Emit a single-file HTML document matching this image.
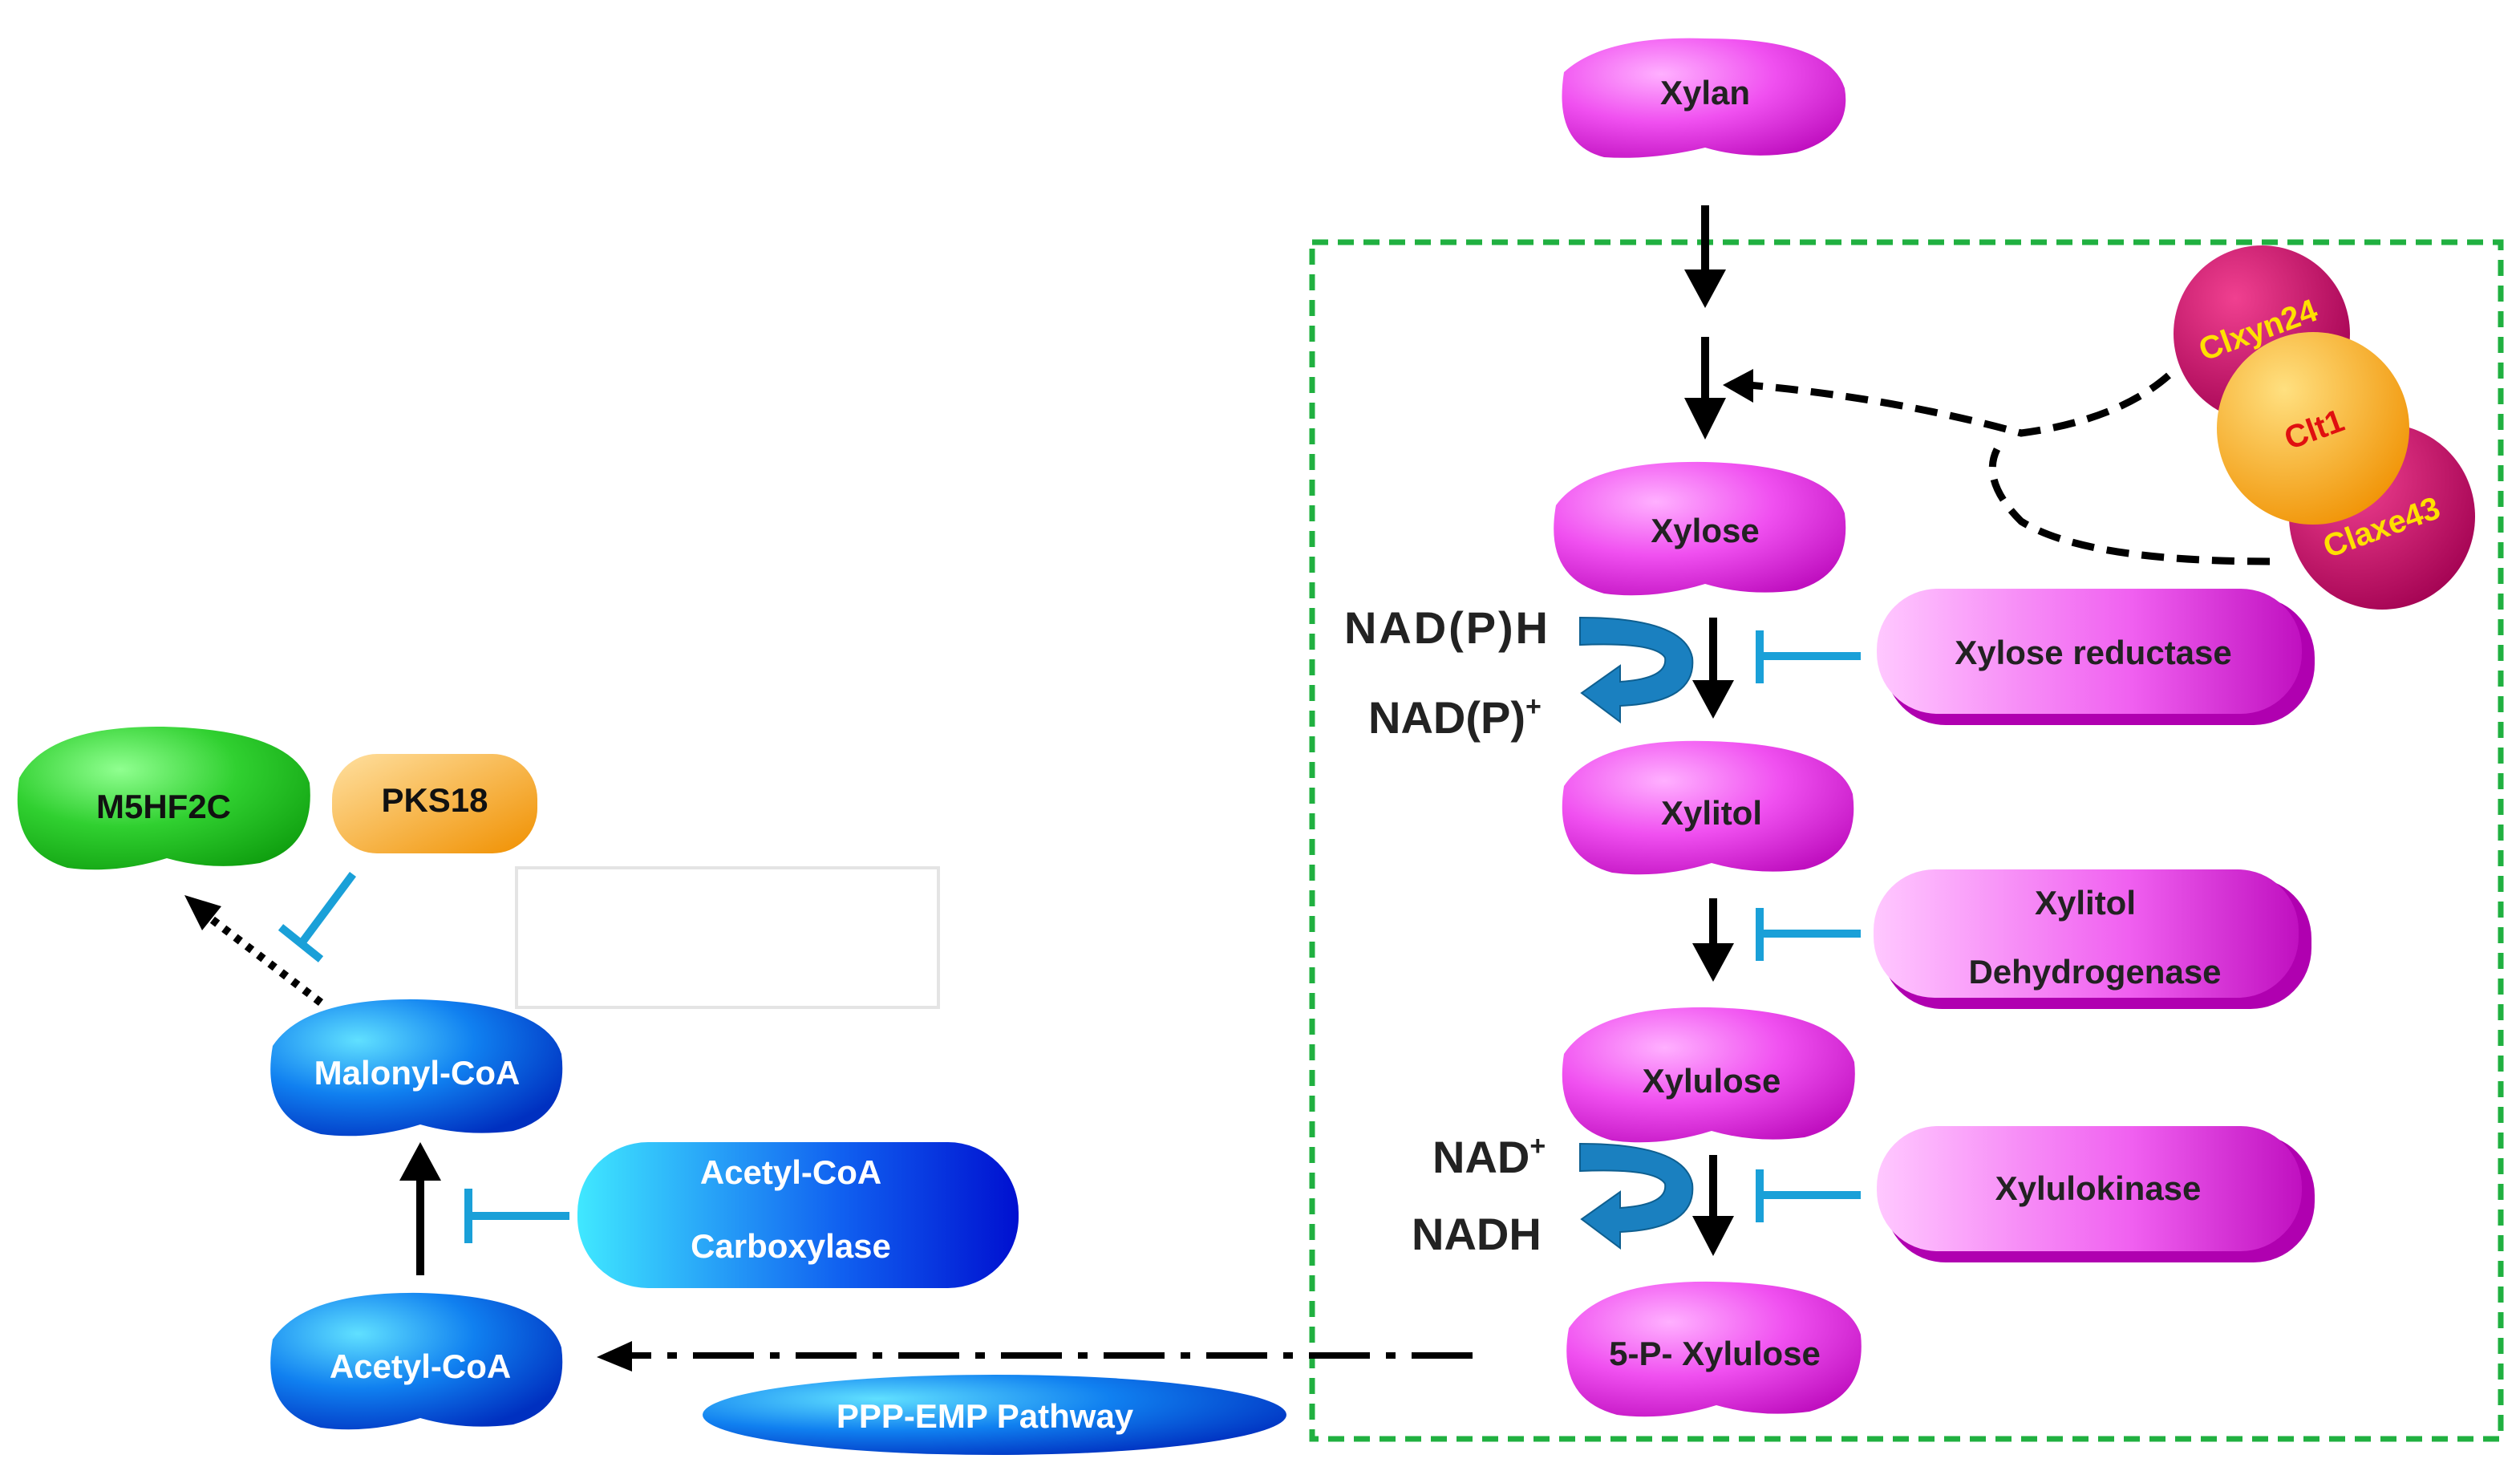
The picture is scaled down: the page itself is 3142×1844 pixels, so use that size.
<!DOCTYPE html>
<html><head><meta charset="utf-8"><style>
html,body{margin:0;padding:0;background:#fff;}
svg{display:block;}
text{font-family:"Liberation Sans",sans-serif;font-weight:bold;}
</style></head><body>
<svg width="3142" height="1844" viewBox="0 0 1571 922" xmlns="http://www.w3.org/2000/svg">
<defs>
<radialGradient id="mag" cx="0.35" cy="0.3" r="0.8"><stop offset="0" stop-color="#ffb0ff"/><stop offset="0.5" stop-color="#f050f0"/><stop offset="1" stop-color="#c010c0"/></radialGradient>
<linearGradient id="magp" x1="0" x2="1" y1="0" y2="0"><stop offset="0" stop-color="#ffc8ff"/><stop offset="0.6" stop-color="#f060f0"/><stop offset="1" stop-color="#c010c0"/></linearGradient>
<radialGradient id="blu" cx="0.3" cy="0.3" r="0.8"><stop offset="0" stop-color="#60e0ff"/><stop offset="0.5" stop-color="#1080f0"/><stop offset="1" stop-color="#0030c0"/></radialGradient>
<linearGradient id="blup" x1="0" x2="1"><stop offset="0" stop-color="#40e8ff"/><stop offset="0.6" stop-color="#1060f0"/><stop offset="1" stop-color="#0010d0"/></linearGradient>
<radialGradient id="grn" cx="0.35" cy="0.3" r="0.8"><stop offset="0" stop-color="#90ff90"/><stop offset="0.5" stop-color="#30d030"/><stop offset="1" stop-color="#10a010"/></radialGradient>
<linearGradient id="org" x1="0" y1="0" x2="1" y2="1"><stop offset="0" stop-color="#ffe0a0"/><stop offset="1" stop-color="#f09000"/></linearGradient>
<radialGradient id="org2" cx="0.35" cy="0.3" r="0.8"><stop offset="0" stop-color="#ffe080"/><stop offset="1" stop-color="#f09000"/></radialGradient>
<radialGradient id="dm" cx="0.35" cy="0.3" r="0.8"><stop offset="0" stop-color="#f04090"/><stop offset="1" stop-color="#a00050"/></radialGradient>
</defs>

<rect x="818" y="151" width="741" height="746" fill="none" stroke="#20b040" stroke-width="3.5" stroke-dasharray="10,6"/>

<path d="M975,45 Q1000,22 1063,24 Q1140,24 1150,55 Q1155,85 1120,95 Q1090,100 1063,92 Q1030,100 1000,98 Q968,90 975,45z" fill="url(#mag)"/>
<text x="1063" y="65" font-size="21" text-anchor="middle" fill="#222">Xylan</text>

<path d="M970,315 Q990,287 1063,288 Q1140,290 1150,320 Q1155,358 1120,368 Q1090,372 1063,364 Q1030,374 1000,370 Q962,360 970,315z" fill="url(#mag)"/>
<text x="1063" y="338" font-size="21" text-anchor="middle" fill="#222">Xylose</text>

<path d="M975,490 Q995,460 1065,462 Q1145,464 1155,495 Q1160,533 1125,542 Q1095,546 1067,538 Q1035,548 1005,544 Q968,534 975,490z" fill="url(#mag)"/>
<text x="1067" y="514" font-size="21" text-anchor="middle" fill="#222">Xylitol</text>

<path d="M975,657 Q995,627 1066,628 Q1145,630 1156,662 Q1160,700 1125,709 Q1095,713 1067,705 Q1035,715 1005,711 Q968,701 975,657z" fill="url(#mag)"/>
<text x="1067" y="681" font-size="21" text-anchor="middle" fill="#222">Xylulose</text>

<path d="M978,828 Q998,798 1068,799 Q1150,800 1160,832 Q1164,870 1128,880 Q1098,884 1070,876 Q1038,886 1008,882 Q970,872 978,828z" fill="url(#mag)"/>
<text x="1069" y="851" font-size="21" text-anchor="middle" fill="#222">5-P- Xylulose</text>

<path d="M170,835 Q190,805 262,806 Q340,808 350,840 Q355,878 320,888 Q290,892 262,884 Q230,894 200,890 Q162,880 170,835z" fill="url(#blu)"/>
<text x="262" y="859" font-size="21" text-anchor="middle" fill="#fff">Acetyl-CoA</text>

<path d="M170,652 Q190,622 260,623 Q340,625 350,657 Q355,695 320,705 Q290,709 262,701 Q230,711 200,707 Q162,697 170,652z" fill="url(#blu)"/>
<text x="260" y="676" font-size="21" text-anchor="middle" fill="#fff">Malonyl-CoA</text>

<path d="M12,485 Q30,452 102,453 Q182,455 193,488 Q197,528 162,538 Q132,543 104,535 Q72,545 42,541 Q5,530 12,485z" fill="url(#grn)"/>
<text x="102" y="510" font-size="21" text-anchor="middle" fill="#111">M5HF2C</text>

<rect x="207" y="470" width="128" height="62" rx="28" fill="url(#org)"/>
<text x="271" y="506" font-size="21" text-anchor="middle" fill="#111">PKS18</text>

<rect x="1175" y="372" width="268" height="80" rx="38" fill="#b000b0"/>
<rect x="1170" y="367" width="265" height="78" rx="38" fill="url(#magp)"/>
<text x="1305" y="414" font-size="21" text-anchor="middle" fill="#222">Xylose reductase</text>

<rect x="1173" y="547" width="268" height="82" rx="38" fill="#b000b0"/>
<rect x="1168" y="542" width="265" height="80" rx="38" fill="url(#magp)"/>
<text x="1300" y="570" font-size="21" text-anchor="middle" fill="#222">Xylitol</text>
<text x="1306" y="613" font-size="21" text-anchor="middle" fill="#222">Dehydrogenase</text>

<rect x="1175" y="707" width="268" height="80" rx="38" fill="#b000b0"/>
<rect x="1170" y="702" width="265" height="78" rx="38" fill="url(#magp)"/>
<text x="1308" y="748" font-size="21" text-anchor="middle" fill="#222">Xylulokinase</text>

<rect x="360" y="712" width="275" height="91" rx="44" fill="url(#blup)"/>
<text x="493" y="738" font-size="21" text-anchor="middle" fill="#fff">Acetyl-CoA</text>
<text x="493" y="784" font-size="21" text-anchor="middle" fill="#fff">Carboxylase</text>

<ellipse cx="620" cy="882" rx="182" ry="25" fill="url(#blu)"/>
<text x="614" y="890" font-size="21" text-anchor="middle" fill="#fff">PPP-EMP Pathway</text>

<rect x="322" y="541" width="263" height="87" fill="none" stroke="#e4e4e4" stroke-width="2"/>

<circle cx="1410" cy="208" r="55" fill="url(#dm)"/>
<circle cx="1485" cy="322" r="58" fill="url(#dm)"/>
<circle cx="1442" cy="267" r="60" fill="url(#org2)"/>
<text x="1410" y="212" font-size="20" text-anchor="middle" fill="#ffe000" transform="rotate(-20 1410 212)">Clxyn24</text>
<text x="1445" y="274" font-size="20" text-anchor="middle" fill="#e01010" transform="rotate(-20 1445 274)">Clt1</text>
<text x="1487" y="335" font-size="20" text-anchor="middle" fill="#ffe000" transform="rotate(-20 1487 335)">Claxe43</text>

<g stroke="#000" stroke-width="5" fill="none">
<line x1="1063" y1="128" x2="1063" y2="172"/>
<line x1="1063" y1="210" x2="1063" y2="252"/>
<line x1="1068" y1="385" x2="1068" y2="428"/>
<line x1="1068" y1="560" x2="1068" y2="592"/>
<line x1="1068" y1="720" x2="1068" y2="762"/>
<line x1="262" y1="795" x2="262" y2="732"/>
</g>
<g fill="#000">
<path d="M1050,168 L1076,168 L1063,192z"/>
<path d="M1050,248 L1076,248 L1063,274z"/>
<path d="M1055,424 L1081,424 L1068,448z"/>
<path d="M1055,588 L1081,588 L1068,612z"/>
<path d="M1055,758 L1081,758 L1068,783z"/>
<path d="M249,736 L275,736 L262,712z"/>
</g>

<path d="M1352,234 Q1320,262 1260,270 Q1180,248 1090,240" stroke="#000" stroke-width="4.5" fill="none" stroke-dasharray="14,8"/>
<path d="M1093,230 L1093,251 L1074,240z" fill="#000"/>
<path d="M1415,350 Q1300,350 1260,325 Q1235,300 1245,280" stroke="#000" stroke-width="4.5" fill="none" stroke-dasharray="14,8"/>

<path d="M918,845 L390,845" stroke="#000" stroke-width="4" fill="none" stroke-dasharray="38,10,6,10"/>
<path d="M394,836 L394,855 L372,846z" fill="#000"/>

<path d="M200,625 L128,570" stroke="#000" stroke-width="5" fill="none" stroke-dasharray="4,5"/>
<path d="M115,558 L138,565 L126,580z" fill="#000"/>

<g stroke="#1aa0d8" stroke-width="5" fill="none">
<line x1="1160" y1="409" x2="1097" y2="409"/><line x1="1097" y1="393" x2="1097" y2="426"/>
<line x1="1160" y1="582" x2="1097" y2="582"/><line x1="1097" y1="566" x2="1097" y2="599"/>
<line x1="1160" y1="745" x2="1097" y2="745"/><line x1="1097" y1="729" x2="1097" y2="762"/>
<line x1="355" y1="758" x2="292" y2="758"/><line x1="292" y1="741" x2="292" y2="775"/>
<line x1="220" y1="545" x2="188" y2="588"/><line x1="175" y1="578" x2="200" y2="598"/>
</g>

<g fill="#1a80c0" stroke="#0e5f90" stroke-width="1">
<path d="M985,385 Q1050,385 1055,410 Q1058,438 1010,440 L1010,450 L986,432 L1010,415 L1010,425 Q1040,423 1038,410 Q1032,400 985,402z"/>
<path d="M985,713 Q1050,713 1055,738 Q1058,766 1010,768 L1010,778 L986,760 L1010,743 L1010,753 Q1040,751 1038,738 Q1032,728 985,730z"/>
</g>
<text x="838" y="401" font-size="28" fill="#222" textLength="127">NAD(P)H</text>
<text x="853" y="457" font-size="28" fill="#222">NAD(P)<tspan font-size="17" dy="-11">+</tspan></text>
<text x="893" y="731" font-size="28" fill="#222">NAD<tspan font-size="17" dy="-11">+</tspan></text>
<text x="880" y="779" font-size="28" fill="#222">NADH</text>
</svg>
</body></html>
